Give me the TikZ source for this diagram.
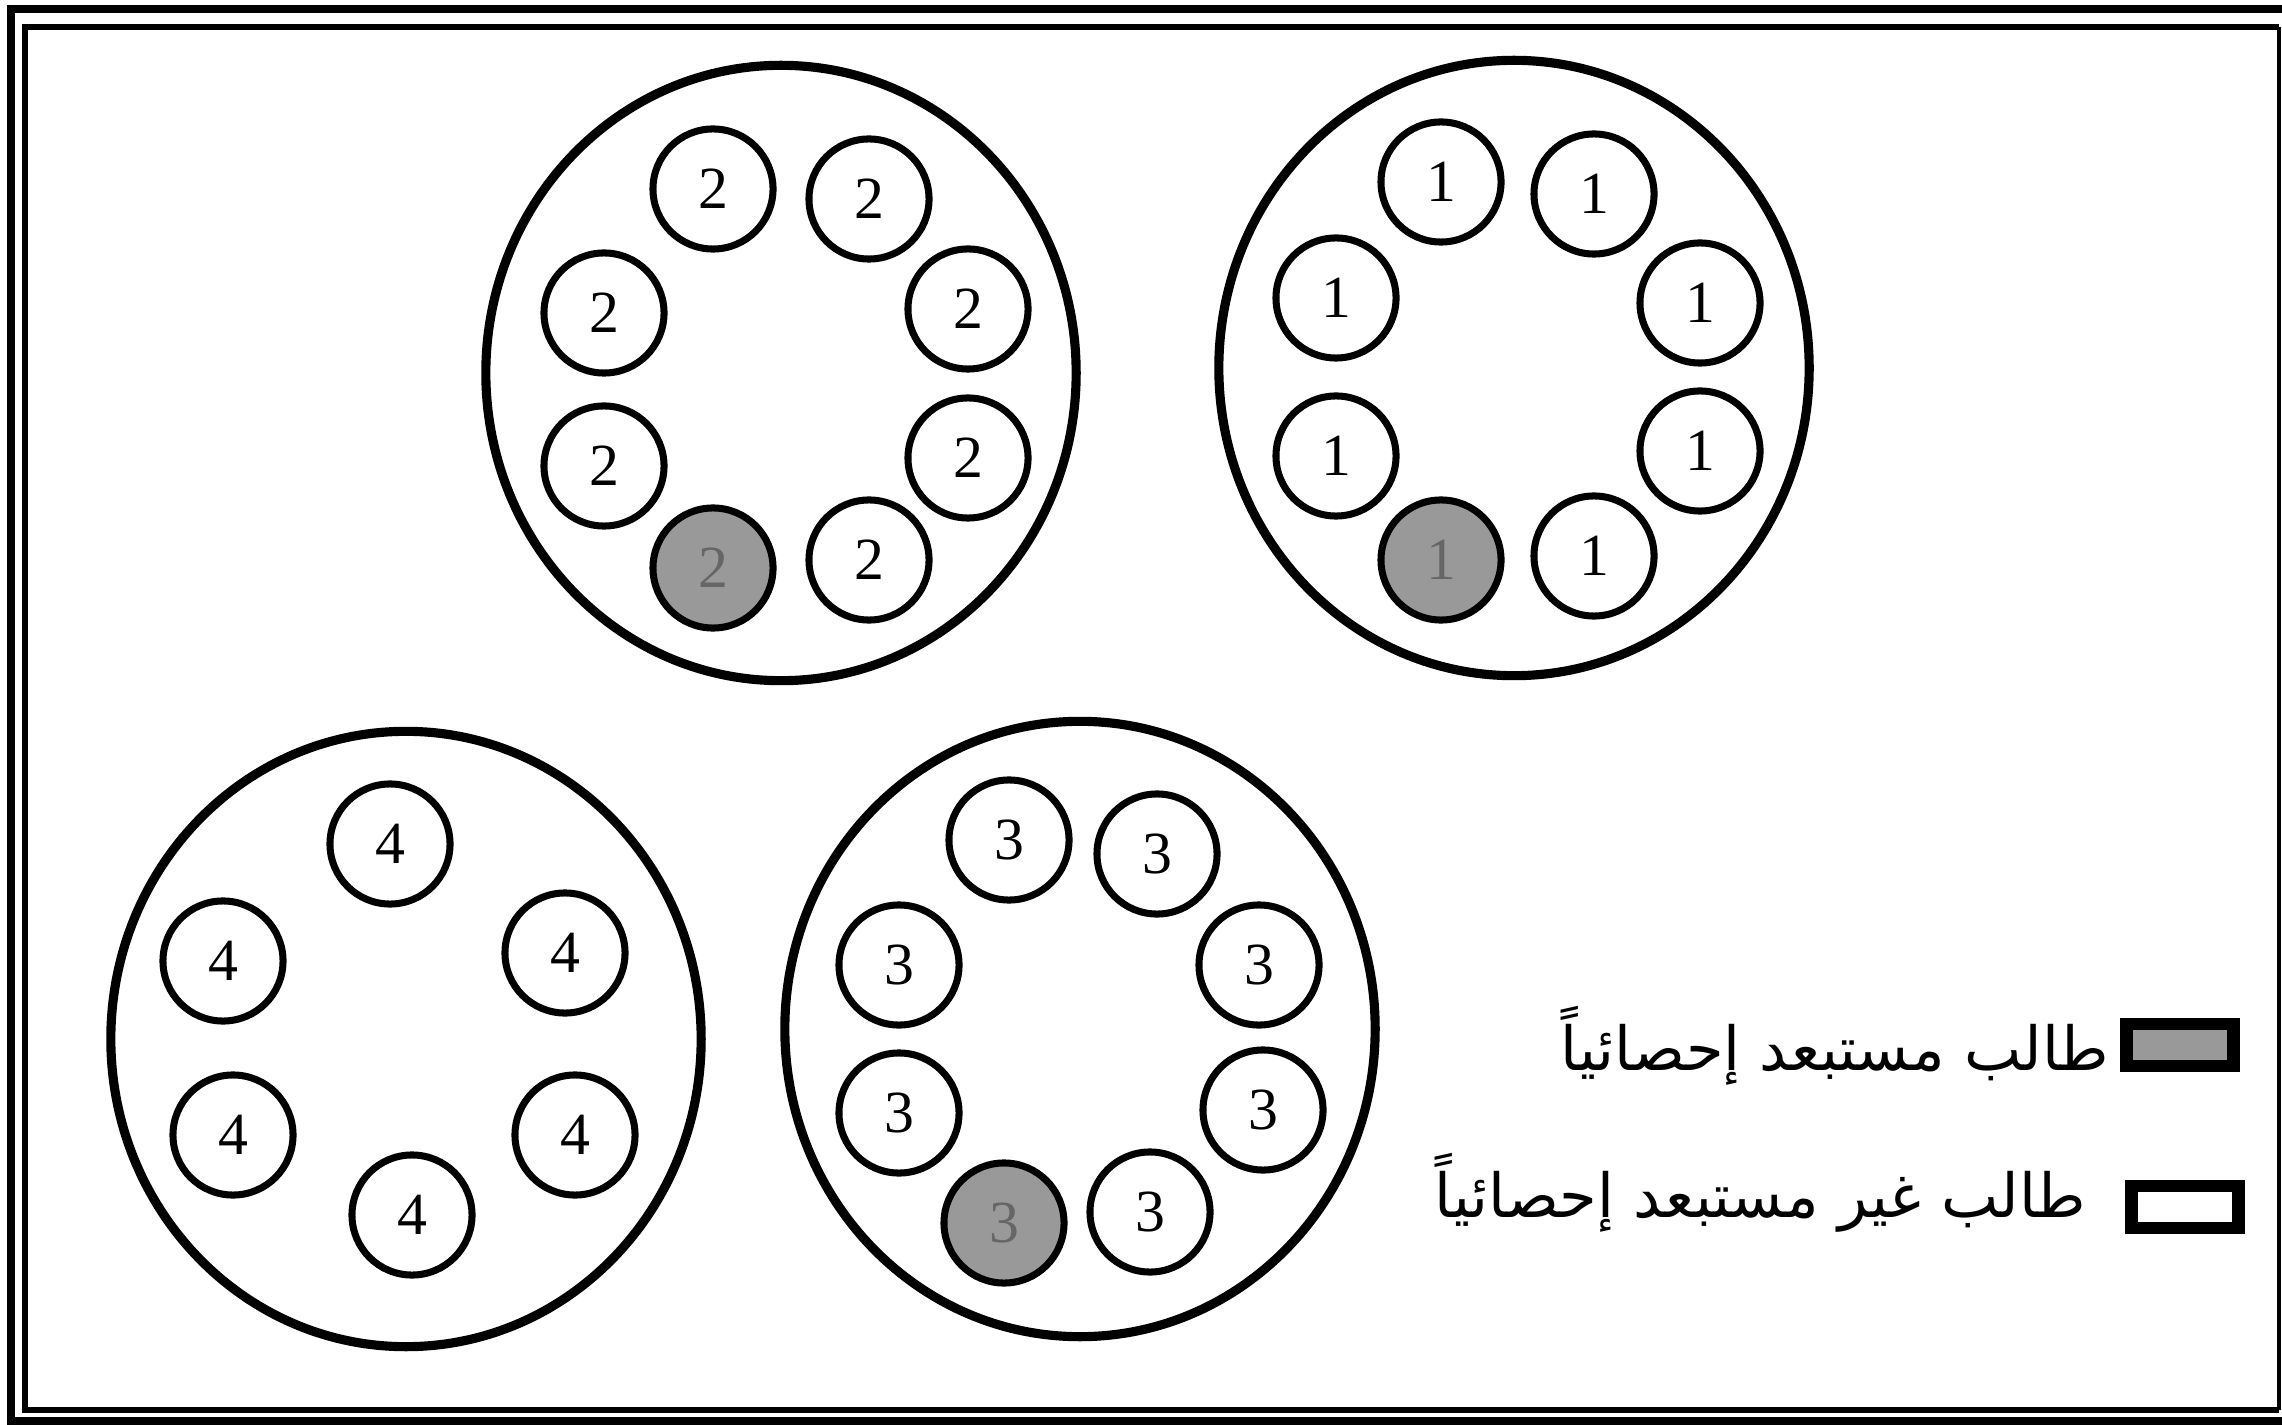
\documentclass[tikz,border=0pt]{standalone}
\usepackage{fontspec}
\setmainfont{Liberation Serif}
\newfontfamily\arabicfont[Script=Arabic]{DejaVu Sans}
\TeXXeTstate=1
\usetikzlibrary{shapes.geometric}

\tikzset{
  ring/.style={ellipse, draw, line width=2.6pt, minimum width=5.9cm, minimum height=6.15cm, inner sep=0pt},
  seat/.style={circle, draw, line width=2pt, minimum size=1.2cm, inner sep=0pt, font=\fontsize{17}{20}\selectfont},
  dropped/.style={seat, fill=black!40, text=black!60},
  keybox/.style={rectangle, draw, line width=3.5pt, minimum width=1.07cm, minimum height=0.42cm, inner sep=0pt},
  keytext/.style={anchor=base east, inner sep=0pt, font=\arabicfont\fontsize{17.3}{20}\selectfont}
}

\begin{document}
\begin{tikzpicture}[x=0.01cm, y=-0.01cm]
    \useasboundingbox (0,0) rectangle (2282,1425);

    % Frame
    \draw[line width=2.2pt] (2282,9) -| (11,1421) -- (2282,1421);
    \draw[line width=1.8pt] (2279,27) -| (25,1410) -- (2279,1410);
    \draw[line width=0.9pt] (2279,27) -- (2279,1410);

    % Group 2
    \node[ring] (grp2) at (781,373) {};
    \node[seat] (g2a) at (713,189) {2};
    \node[seat] (g2b) at (869,199) {2};
    \node[seat] (g2c) at (968,309) {2};
    \node[seat] (g2d) at (968,458) {2};
    \node[seat] (g2e) at (869,560) {2};
    \node[dropped] (g2f) at (713,568) {2};
    \node[seat] (g2g) at (604,466) {2};
    \node[seat] (g2h) at (604,313) {2};

    % Group 1
    \node[ring] (grp1) at (1514,368) {};
    \node[seat] (g1a) at (1441,182) {1};
    \node[seat] (g1b) at (1594,194) {1};
    \node[seat] (g1c) at (1700,303) {1};
    \node[seat] (g1d) at (1700,451) {1};
    \node[seat] (g1e) at (1594,556) {1};
    \node[dropped] (g1f) at (1441,560) {1};
    \node[seat] (g1g) at (1336,456) {1};
    \node[seat] (g1h) at (1336,298) {1};

    % Group 4
    \node[ring] (grp4) at (406,1039) {};
    \node[seat] (g4a) at (390,844) {4};
    \node[seat] (g4b) at (223,961) {4};
    \node[seat] (g4c) at (565,953) {4};
    \node[seat] (g4d) at (233,1135) {4};
    \node[seat] (g4e) at (575,1135) {4};
    \node[seat] (g4f) at (412,1215) {4};

    % Group 3
    \node[ring] (grp3) at (1080,1029) {};
    \node[seat] (g3a) at (1009,840) {3};
    \node[seat] (g3b) at (1157,854) {3};
    \node[seat] (g3c) at (1259,965) {3};
    \node[seat] (g3d) at (1263,1110) {3};
    \node[seat] (g3e) at (1150,1212) {3};
    \node[dropped] (g3f) at (1004,1223) {3};
    \node[seat] (g3g) at (899,1113) {3};
    \node[seat] (g3h) at (899,965) {3};

    % Legend
    \node[keybox, fill=black!40] (keyout) at (2180,1045) {};
    \node[keytext] (txtout) at (2110,1070) {\beginR طالب مستبعد إحصائياً\endR};
    \node[keybox] (keyin) at (2185,1207) {};
    \node[keytext] (txtin) at (2087,1217) {\beginR طالب غير مستبعد إحصائياً\endR};
\end{tikzpicture}
\end{document}
